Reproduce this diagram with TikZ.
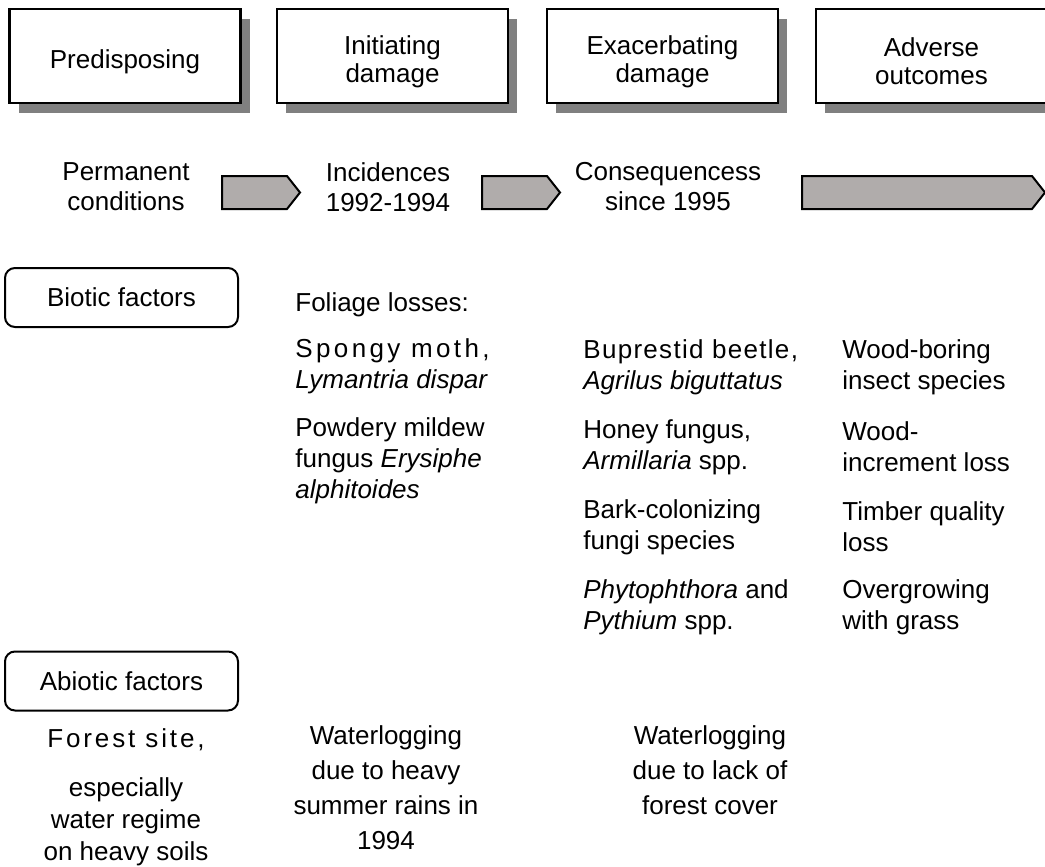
\documentclass[tikz,border=0pt]{standalone}
\usepackage{fontspec}
\setmainfont{Liberation Sans}
\usetikzlibrary{shadows}
\definecolor{arrowgray}{RGB}{176,172,171}
\definecolor{shadowgray}{RGB}{128,128,128}
\tikzset{
  stagebox/.style={draw, line width=1.4pt, fill=white, minimum width=115.5pt,
    minimum height=47pt, inner sep=0pt,
    drop shadow={shadow xshift=4.5pt, shadow yshift=-5pt, fill=shadowgray, opacity=1}},
  stagetext/.style={align=center, inner sep=0pt, font=\fontsize{13}{14}\selectfont},
  factorbox/.style={draw, line width=1pt, rounded corners=5pt, minimum width=116.5pt,
    minimum height=29.5pt, inner sep=0pt, font=\fontsize{13}{15}\selectfont},
  phase/.style={draw, line width=1pt, fill=arrowgray, line join=miter},
  lbl/.style={align=center, inner sep=0pt, font=\fontsize{13}{15}\selectfont},
  item/.style={align=left, inner sep=0pt, anchor=west, font=\fontsize{13}{15.5}\selectfont},
  spaced/.style={font=\fontsize{13}{15.5}\selectfont\addfontfeature{LetterSpace=11}},
}

\begin{document}
\begin{tikzpicture}[x=0.5pt,y=-0.5pt]
  \useasboundingbox (0,0) rectangle (1045,867);

  % stages
  \foreach \x/\name/\txt in {125/pre/Predisposing, 392.5/ini/Initiating\\damage,
      662.5/exa/Exacerbating\\damage, 931.5/adv/Adverse\\outcomes} {
    \node[stagebox] (\name) at (\x,56) {};
    \node[stagetext] (\name txt) at ([yshift=-2.75pt]\name.center) {\txt};
  }

  % phase arrows
  \foreach \xa/\xb in {222/300, 482/560, 802/1045} {
    \draw[phase] (\xa,176) -- (\xb-13,176) -- (\xb,192.5) -- (\xb-13,209) -- (\xa,209) -- cycle;
  }
  \node[lbl] (perm) at (126,187) {Permanent\\conditions};
  \node[lbl] (inc) at (388,187) {Incidences\\1992-1994};
  \node[lbl] (cons) at (668,187) {Consequencess\\since 1995};

  % factor groups
  \node[factorbox] (biotic) at (121.5,297.5) {Biotic factors};
  \node[factorbox] (abiotic) at (121.5,681) {Abiotic factors};

  % biotic factors
  \node[item] (foliage) at (295,305) {Foliage losses:};
  \node[item] (moth) at (295,366) {{\addfontfeature{LetterSpace=13}Spongy moth,}\\\textit{Lymantria dispar}};
  \node[item] (mildew) at (295,461) {Powdery mildew\\fungus \textit{Erysiphe}\\\textit{alphitoides}};

  \node[item] (beetle) at (583,367) {{\addfontfeature{LetterSpace=5}Buprestid beetle,}\\\textit{Agrilus biguttatus}};
  \node[item] (honey) at (583,447) {Honey fungus,\\\textit{Armillaria} spp.};
  \node[item] (bark) at (583,527) {Bark-colonizing\\fungi species};
  \node[item] (phyto) at (583,607) {\textit{Phytophthora} and\\\textit{Pythium} spp.};

  \node[item] (boring) at (842,367) {Wood-boring\\insect species};
  \node[item] (incr) at (842,447) {Wood-\\increment loss};
  \node[item] (timber) at (842,527) {Timber quality\\loss};
  \node[item] (grass) at (842,607) {Overgrowing\\with grass};

  % abiotic factors
  \node[lbl, spaced] (site) at (126,740) {Forest site,};
  \node[lbl, font=\fontsize{13}{16}\selectfont] (regime) at (126,822) {especially\\water regime\\on heavy soils};
  \node[lbl, font=\fontsize{13}{17.5}\selectfont] (rains) at (386,787.5) {Waterlogging\\due to heavy\\summer rains in\\1994};
  \node[lbl, font=\fontsize{13}{17.5}\selectfont] (cover) at (710,770) {Waterlogging\\due to lack of\\forest cover};
\end{tikzpicture}
\end{document}
